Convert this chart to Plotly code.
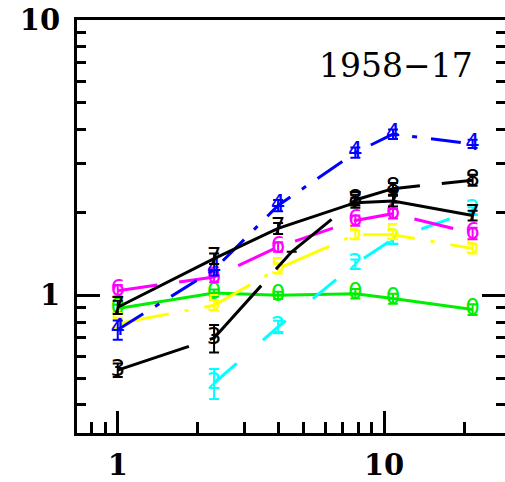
import plotly.graph_objects as go

# Observation frequencies (x) shared by most epochs
freq = [1.0, 2.3, 4.0, 7.8, 10.8, 21.5]

# Flux density series, one per epoch
blue_y = [0.75, 1.24, 2.12, 3.30, 3.85, 3.55]
blue_err = [0.06, 0.06, 0.10, 0.14, 0.15, 0.12]

black_solid_y = [0.905, 1.36, 1.75, 2.17, 2.20, 1.95]
black_solid_err = [0.05, 0.06, 0.08, 0.09, 0.10, 0.08]

black_dash_x = [1.0, 2.3, 4.5, 7.8, 10.8, 21.5]
black_dash_y = [0.535, 0.70, 1.44, 2.22, 2.44, 2.62]
black_dash_err = [0.03, 0.08, None, 0.10, 0.12, 0.12]
black_dash_sym = ["3", "3", "", "8", "8", "8"]

magenta_y = [1.04, 1.165, 1.50, 1.87, 1.98, 1.68]
magenta_err = [0.05, 0.05, 0.06, 0.08, 0.08, 0.08]

yellow_y = [0.79, 0.92, 1.25, 1.66, 1.66, 1.48]
yellow_err = [0.04, 0.04, 0.05, 0.06, 0.06, 0.06]

green_y = [0.895, 1.02, 1.0, 1.014, 0.973, 0.888]
green_err = [0.03, 0.03, 0.03, 0.04, 0.04, 0.04]

cyan_x = [2.3, 4.0, 7.8, 10.8, 21.5]
cyan_y = [0.48, 0.768, 1.30, 1.60, 2.03]
cyan_err = [0.06, 0.04, 0.05, 0.06, 0.06]

x_major = [1, 10]
x_minor = [0.7, 0.8, 0.9, 2, 3, 4, 5, 6, 7, 8, 9, 20, 30]
y_major = [1, 10]
y_minor = [0.4, 0.5, 0.6, 0.7, 0.8, 0.9, 2, 3, 4, 5, 6, 7, 8, 9]

label_text = "1958\u221217"

fig = go.Figure()


def add_series(x, y, err, sym, color, dash):
    fig.add_trace(go.Scatter(
        x=x, y=y,
        mode="lines+text",
        text=sym if isinstance(sym, list) else [sym] * len(x),
        textposition="middle center",
        textfont=dict(family="DejaVu Sans", size=23, color=color),
        line=dict(color=color, width=3, dash=dash),
        error_y=dict(type="data", array=err, visible=True,
                     color=color, thickness=2, width=5),
        showlegend=False,
        hoverinfo="skip",
    ))


add_series(freq, green_y, green_err, "0", "#00ee00", "solid")
add_series(cyan_x, cyan_y, cyan_err, "2", "#00ffff", "30px,35px")
add_series(freq, yellow_y, yellow_err, "5", "#ffff00", "52px,16px,4px,16px")
add_series(freq, magenta_y, magenta_err, "6", "#ff00ff", "40px,22px")
add_series(freq, blue_y, blue_err, "4", "#0000ff", "30px,14px,5px,14px")
add_series(black_dash_x, black_dash_y, black_dash_err, black_dash_sym,
           "#000000", "75px,22px")
add_series(freq, black_solid_y, black_solid_err, "7", "#000000", "solid")

axis_font = dict(family="DejaVu Serif", size=29, color="black",
                 weight="bold")

fig.update_layout(
    width=505, height=482,
    margin=dict(l=77, r=0, t=20, b=49, autoexpand=False),
    paper_bgcolor="white", plot_bgcolor="white",
    showlegend=False,
    xaxis=dict(
        type="log", range=[-0.153, 1.454], automargin=False,
        showgrid=False, zeroline=False,
        showline=True, linecolor="black", linewidth=3, mirror=True,
        ticks="inside", ticklen=22, tickwidth=2.5, tickcolor="black",
        tickmode="array", tickvals=x_major, ticktext=["1", "10"],
        tickfont=axis_font, ticklabelstandoff=4,
        minor=dict(ticks="inside", ticklen=11, tickwidth=2.5,
                   tickcolor="black", tickmode="array", tickvals=x_minor,
                   showgrid=False),
    ),
    yaxis=dict(
        type="log", range=[-0.5, 1.0], automargin=False,
        showgrid=False, zeroline=False,
        showline=True, linecolor="black", linewidth=3, mirror=False,
        ticks="inside", ticklen=23, tickwidth=2.5, tickcolor="black",
        tickmode="array", tickvals=y_major, ticktext=["1", "10"],
        tickfont=axis_font, ticklabelstandoff=8,
        minor=dict(ticks="inside", ticklen=9, tickwidth=2.5,
                   tickcolor="black", tickmode="array", tickvals=y_minor,
                   showgrid=False),
    ),
    yaxis2=dict(
        type="log", range=[-0.5, 1.0], overlaying="y", side="right",
        automargin=False,
        showgrid=False, zeroline=False, showline=False,
        ticks="inside", ticklen=23, tickwidth=2.5, tickcolor="black",
        tickmode="array", tickvals=y_major, showticklabels=False,
        minor=dict(ticks="inside", ticklen=9, tickwidth=2.5,
                   tickcolor="black", tickmode="array", tickvals=y_minor,
                   showgrid=False),
    ),
    annotations=[dict(
        text=label_text, xref="paper", yref="paper",
        x=0.93, y=0.889, xanchor="right", yanchor="middle",
        showarrow=False,
        font=dict(family="DejaVu Serif", size=33, color="black"),
    )],
)

# invisible trace so the right-hand tick axis is rendered
fig.add_trace(go.Scatter(x=[1], y=[1], yaxis="y2", mode="markers",
                         marker=dict(opacity=0), showlegend=False,
                         hoverinfo="skip"))

fig.write_html("out.html")
